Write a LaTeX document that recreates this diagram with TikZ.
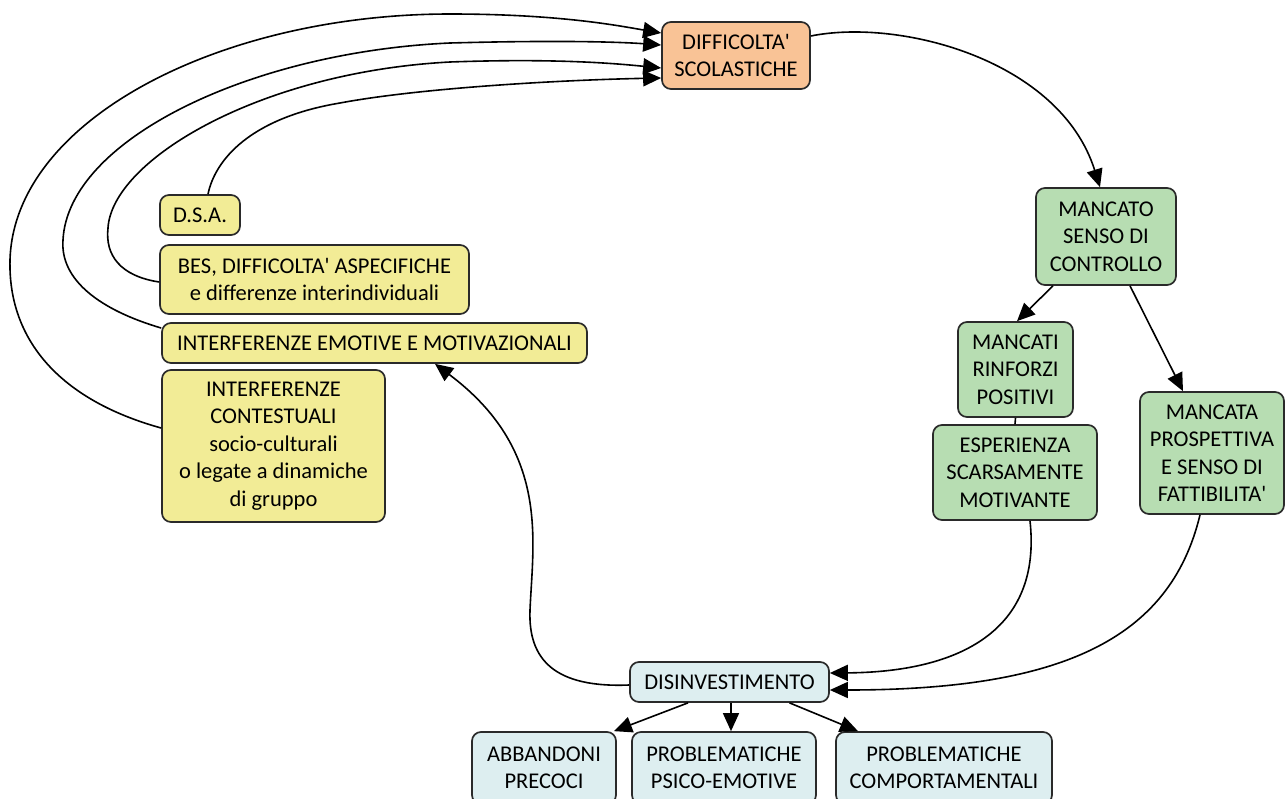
\documentclass[tikz,border=0pt]{standalone}
\usepackage{fontspec}
\newfontfamily\boxfont{Carlito}
\usetikzlibrary{arrows.meta,calc}
\definecolor{orfill}{HTML}{F9C396}
\definecolor{yefill}{HTML}{F2EC96}
\definecolor{grfill}{HTML}{B7DDB2}
\definecolor{blfill}{HTML}{DDEEF0}
\definecolor{bord}{HTML}{2A2A2A}
\begin{document}
\begin{tikzpicture}[x=1pt,y=-1pt,
  box/.style={draw=bord,line width=1.7pt,rounded corners=9pt,align=center,inner sep=2pt,
    font=\boxfont\fontsize{22.5}{27.5}\selectfont,text=black},
  conn/.style={draw=black,line width=1.6pt,-{Triangle[length=18pt,width=16pt]}},
  plain/.style={draw=black,line width=1.6pt}]
\useasboundingbox[fill=white] (0,0) rectangle (1285,798);
% nodes
\node[box,fill=orfill,minimum width=148pt,minimum height=67pt] (diff) at (736,55.5) {DIFFICOLTA'\\SCOLASTICHE};
\node[box,fill=yefill,minimum width=80pt,minimum height=40pt] (dsa) at (200,215) {D.S.A.};
\node[box,fill=yefill,minimum width=309pt,minimum height=69pt] (bes) at (314.5,279.5) {BES, DIFFICOLTA' ASPECIFICHE\\e differenze interindividuali};
\node[box,fill=yefill,minimum width=425pt,minimum height=40pt] (iem) at (374.5,343) {INTERFERENZE EMOTIVE E MOTIVAZIONALI};
\node[box,fill=yefill,minimum width=223pt,minimum height=152pt] (ic) at (273.5,446) {INTERFERENZE\\CONTESTUALI\\socio-culturali\\o legate a dinamiche\\di gruppo};
\node[box,fill=grfill,minimum width=140pt,minimum height=97pt] (msc) at (1106,236.5) {MANCATO\\SENSO DI\\CONTROLLO};
\node[box,fill=grfill,minimum width=115pt,minimum height=95pt] (mrp) at (1015.5,369.5) {MANCATI\\RINFORZI\\POSITIVI};
\node[box,fill=grfill,minimum width=164pt,minimum height=95pt] (esm) at (1015,472.5) {ESPERIENZA\\SCARSAMENTE\\MOTIVANTE};
\node[box,fill=grfill,minimum width=144pt,minimum height=122pt] (mpf) at (1212,453) {MANCATA\\PROSPETTIVA\\E SENSO DI\\FATTIBILITA'};
\node[box,fill=blfill,minimum width=199pt,minimum height=40pt] (dis) at (729.5,682) {DISINVESTIMENTO};
\node[box,fill=blfill,minimum width=144pt,minimum height=72pt] (ap) at (544,768) {ABBANDONI\\PRECOCI};
\node[box,fill=blfill,minimum width=184pt,minimum height=72pt] (ppe) at (724,768) {PROBLEMATICHE\\PSICO-EMOTIVE};
\node[box,fill=blfill,minimum width=216pt,minimum height=72pt] (pc) at (944,768) {PROBLEMATICHE\\COMPORTAMENTALI};
% connectors to DIFFICOLTA'
\draw[conn] ($(ic.west)+(0,-18)$) .. controls (60,400) and (8,340) .. (10,260)
  .. controls (14,120) and (220,14) .. (450,14) .. controls (560,14) and (620,26) .. ($(diff.west)+(0,-22.5)$);
\draw[conn] ($(iem.west)+(0,-15)$) .. controls (100,310) and (60,280) .. (63,240)
  .. controls (68,140) and (250,52) .. (450,43) .. controls (560,40) and (620,42) .. ($(diff.west)+(0,-10.5)$);
\draw[conn] ($(bes.west)+(0,2.5)$) .. controls (120,276) and (105,255) .. (108,228)
  .. controls (112,160) and (260,72) .. (450,62) .. controls (560,58) and (620,64) .. ($(diff.west)+(0,12.5)$);
\draw[conn] ($(dsa.north)+(8,0)$) .. controls (215,160) and (250,118) .. (340,103)
  .. controls (420,88) and (560,80) .. ($(diff.west)+(0,22.5)$);
% right side
\draw[conn] ($(diff.east)+(0,-19.5)$) .. controls (900,18) and (1060,60) .. ($(msc.north)+(-6,0)$);
\draw[conn] ($(msc.south)+(-53,0)$) -- ($(mrp.north)+(1.5,0)$);
\draw[conn] ($(msc.south)+(24,0)$) -- ($(mpf.north)+(-29,0)$);
\draw[plain] (mrp.south) -- (esm.north);
\draw[conn] ($(esm.south)+(15,0)$) .. controls (1042,630) and (960,672) .. ($(dis.east)+(0,-9)$);
\draw[conn] ($(mpf.south)+(-12,0)$) .. controls (1170,640) and (1060,690) .. ($(dis.east)+(0,8)$);
% back to interferenze
\draw[conn] ($(dis.west)+(0,3)$) .. controls (555,688) and (528,660) .. (530,610)
  .. controls (533,540) and (550,450) .. ($(iem.south)+(60.5,0)$);
% bottom
\draw[conn] ($(dis.south)+(-41.5,0)$) -- ($(ap.north)+(70,0)$);
\draw[conn] ($(dis.south)+(1.5,0)$) -- ($(ppe.north)+(7,0)$);
\draw[conn] ($(dis.south)+(60,0)$) -- ($(pc.north)+(-86,0)$);
\end{tikzpicture}
\end{document}
